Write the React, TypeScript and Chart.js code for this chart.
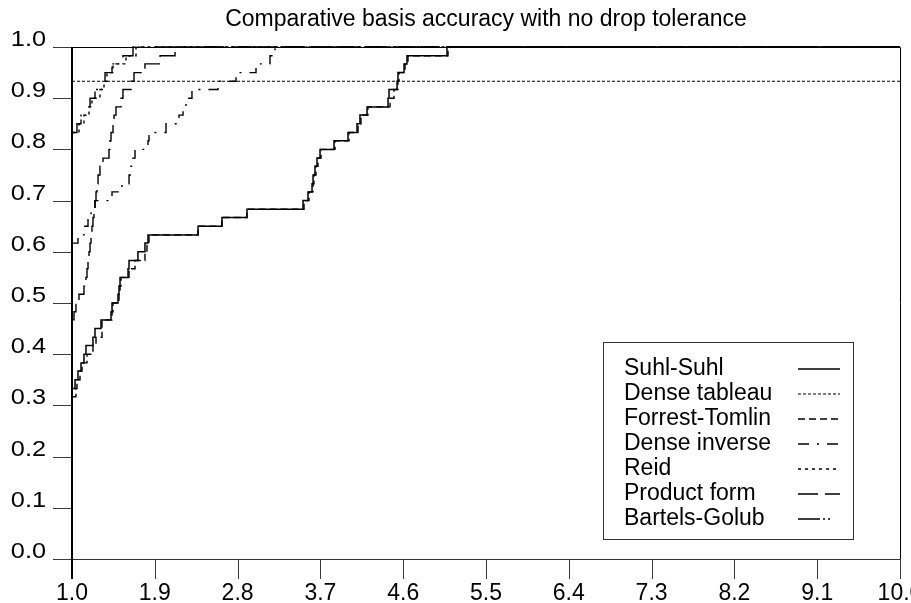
import React, { useEffect, useRef } from "react";
import { Chart, registerables } from "chart.js";

Chart.register(...registerables);

const TITLE = "Comparative basis accuracy with no drop tolerance";
const X_TICKS = [1.0, 1.9, 2.8, 3.7, 4.6, 5.5, 6.4, 7.3, 8.2, 9.1, 10.0];
const Y_TICKS = [0.0, 0.1, 0.2, 0.3, 0.4, 0.5, 0.6, 0.7, 0.8, 0.9, 1.0];

const SERIES_NAMES = [
  "Suhl-Suhl",
  "Dense tableau",
  "Forrest-Tomlin",
  "Dense inverse",
  "Reid",
  "Product form",
  "Bartels-Golub",
];

const suhlX = [1.0, 1.033, 1.065, 1.098, 1.13, 1.152, 1.228, 1.25, 1.315, 1.424, 1.435, 1.5, 1.511, 1.522, 1.609, 1.62, 1.717, 1.793, 1.826, 2.37, 2.63, 2.902, 3.511, 3.565, 3.609, 3.62, 3.641, 3.663, 3.696, 3.848, 4.0, 4.098, 4.13, 4.207, 4.435, 4.446, 4.533, 4.543, 4.609, 4.641, 5.076, 10.0];
const suhlY = [0.333, 0.35, 0.367, 0.383, 0.4, 0.417, 0.433, 0.45, 0.467, 0.483, 0.5, 0.517, 0.533, 0.55, 0.567, 0.583, 0.6, 0.617, 0.633, 0.65, 0.667, 0.683, 0.7, 0.717, 0.733, 0.75, 0.767, 0.783, 0.8, 0.817, 0.833, 0.85, 0.867, 0.883, 0.9, 0.917, 0.933, 0.95, 0.967, 0.983, 1.0, 1.0];

const tableauX = [1.0, 10.0];
const tableauY = [0.933, 0.933];

const forrestX = [1.0, 1.043, 1.054, 1.087, 1.109, 1.163, 1.228, 1.261, 1.326, 1.435, 1.446, 1.511, 1.522, 1.533, 1.62, 1.685, 1.793, 1.815, 1.837, 2.37, 2.63, 2.902, 3.522, 3.576, 3.62, 3.63, 3.652, 3.674, 3.707, 3.859, 4.011, 4.109, 4.141, 4.217, 4.457, 4.5, 4.543, 4.554, 4.62, 4.652, 5.087, 10.0];
const forrestY = [0.317, 0.333, 0.35, 0.367, 0.383, 0.4, 0.417, 0.433, 0.467, 0.483, 0.5, 0.517, 0.533, 0.55, 0.567, 0.583, 0.6, 0.617, 0.633, 0.65, 0.667, 0.683, 0.7, 0.717, 0.733, 0.75, 0.767, 0.783, 0.8, 0.817, 0.833, 0.85, 0.867, 0.883, 0.9, 0.917, 0.933, 0.95, 0.967, 0.983, 1.0, 1.0];

const inverseX = [1.0, 1.065, 1.13, 1.174, 1.207, 1.25, 1.435, 1.543, 1.62, 1.641, 1.663, 1.685, 1.826, 1.837, 2.022, 2.163, 2.207, 2.239, 2.304, 2.587, 2.783, 3.0, 3.152, 3.207, 10.0];
const inverseY = [0.617, 0.633, 0.65, 0.667, 0.683, 0.7, 0.717, 0.733, 0.75, 0.767, 0.783, 0.8, 0.817, 0.833, 0.85, 0.867, 0.883, 0.9, 0.917, 0.933, 0.95, 0.967, 0.983, 1.0, 1.0];

const reidX = [1.0, 1.076, 1.13, 1.185, 1.217, 1.304, 1.348, 1.38, 1.446, 1.587, 1.696, 10.0];
const reidY = [0.833, 0.85, 0.867, 0.883, 0.9, 0.917, 0.933, 0.95, 0.967, 0.983, 1.0, 1.0];

const productX = [1.0, 1.022, 1.043, 1.076, 1.13, 1.152, 1.163, 1.174, 1.185, 1.196, 1.207, 1.217, 1.228, 1.239, 1.25, 1.261, 1.272, 1.283, 1.304, 1.337, 1.402, 1.413, 1.424, 1.446, 1.457, 1.478, 1.533, 1.554, 1.641, 1.674, 1.793, 1.957, 2.12, 10.0];
const productY = [0.467, 0.483, 0.5, 0.517, 0.533, 0.55, 0.567, 0.583, 0.6, 0.617, 0.633, 0.65, 0.667, 0.683, 0.7, 0.717, 0.733, 0.75, 0.767, 0.783, 0.8, 0.817, 0.833, 0.85, 0.867, 0.883, 0.9, 0.917, 0.933, 0.95, 0.967, 0.983, 1.0, 1.0];

const bartelsX = [1.0, 1.054, 1.098, 1.163, 1.196, 1.25, 1.348, 1.359, 1.435, 1.554, 1.663, 10.0];
const bartelsY = [0.833, 0.85, 0.867, 0.883, 0.9, 0.917, 0.933, 0.95, 0.967, 0.983, 1.0, 1.0];

const SERIES_X = [suhlX, tableauX, forrestX, inverseX, reidX, productX, bartelsX];
const SERIES_Y = [suhlY, tableauY, forrestY, inverseY, reidY, productY, bartelsY];
const DASHES: number[][] = [
  [],
  [3, 2],
  [7, 4],
  [11, 8, 2, 8],
  [3, 4],
  [20, 7],
  [22, 3, 2, 3, 2, 10],
];
const WIDTHS = [1.5, 1.1, 1.4, 1.4, 1.4, 1.4, 1.4];

const FONT = '"Liberation Sans", Arial, sans-serif';

const framePlugin = {
  id: "framePlugin",
  afterDraw(chart: any) {
    const { ctx, chartArea: a, scales } = chart;
    const xs = scales.x;
    const ys = scales.y;
    ctx.save();
    ctx.lineCap = "butt";

    // tick marks
    ctx.strokeStyle = "#3a3a3a";
    ctx.lineWidth = 1;
    Y_TICKS.forEach((v) => {
      const py = Math.round(ys.getPixelForValue(v)) + 0.5;
      ctx.beginPath();
      ctx.moveTo(a.left - 19, py);
      ctx.lineTo(a.left, py);
      ctx.stroke();
    });
    X_TICKS.forEach((v) => {
      const px = Math.round(xs.getPixelForValue(v)) + 0.5;
      ctx.beginPath();
      ctx.moveTo(px, a.bottom);
      ctx.lineTo(px, a.bottom + 20);
      ctx.stroke();
    });

    // frame
    ctx.strokeStyle = "#000";
    ctx.lineWidth = 1;
    ctx.beginPath();
    ctx.moveTo(a.left, Math.round(a.top) + 0.5);
    ctx.lineTo(a.right + 0.5, Math.round(a.top) + 0.5);
    ctx.lineTo(a.right + 0.5, a.bottom);
    ctx.stroke();
    ctx.strokeStyle = "#333";
    ctx.beginPath();
    ctx.moveTo(a.left, Math.round(a.bottom) + 0.5);
    ctx.lineTo(a.right, Math.round(a.bottom) + 0.5);
    ctx.stroke();
    ctx.strokeStyle = "#000";
    ctx.lineWidth = 2;
    ctx.beginPath();
    ctx.moveTo(a.left, a.top);
    ctx.lineTo(a.left, a.bottom + 20);
    ctx.stroke();

    // y tick labels (slightly widened glyphs)
    ctx.fillStyle = "#000";
    ctx.textBaseline = "alphabetic";
    ctx.font = `22px ${FONT}`;
    ctx.textAlign = "right";
    Y_TICKS.forEach((v) => {
      const py = ys.getPixelForValue(v);
      ctx.save();
      ctx.translate(a.left - 26, py - 1);
      ctx.scale(1.15, 1);
      ctx.fillText(v.toFixed(1), 0, 0);
      ctx.restore();
    });

    // x tick labels
    ctx.font = `23px ${FONT}`;
    ctx.textAlign = "center";
    X_TICKS.forEach((v) => {
      const px = xs.getPixelForValue(v);
      ctx.fillText(v.toFixed(1), px, a.bottom + 41);
    });

    // title
    ctx.fillText(TITLE, (a.left + a.right) / 2, 26);

    // legend
    const bx = a.right - 297;
    const by = a.top + 295;
    const bw = 250;
    const bh = 197;
    ctx.strokeStyle = "#333";
    ctx.lineWidth = 1;
    ctx.strokeRect(bx + 0.5, by + 0.5, bw, bh);
    ctx.textAlign = "left";
    chart.data.datasets.forEach((ds: any, i: number) => {
      const base = by + 33 + i * 25;
      ctx.fillStyle = "#000";
      ctx.fillText(ds.label, bx + 21, base);
      ctx.strokeStyle = "#000";
      ctx.lineWidth = ds.borderWidth;
      ctx.setLineDash(ds.borderDash || []);
      ctx.beginPath();
      ctx.moveTo(bx + 195, base - 6);
      ctx.lineTo(bx + 237, base - 6);
      ctx.stroke();
      ctx.setLineDash([]);
    });
    ctx.restore();
  },
};

export default function App() {
  const ref = useRef<HTMLCanvasElement>(null);
  useEffect(() => {
    if (!ref.current) return;
    const datasets = SERIES_NAMES.map((name, i) => ({
      label: name,
      data: SERIES_X[i].map((x, j) => ({ x, y: SERIES_Y[i][j] })),
      borderColor: "#000",
      backgroundColor: "#000",
      borderWidth: WIDTHS[i],
      borderDash: DASHES[i],
      stepped: true,
      pointRadius: 0,
      fill: false,
      tension: 0,
      clip: 6,
    }));
    const chart = new Chart(ref.current, {
      type: "line",
      data: { datasets },
      options: {
        animation: false,
        responsive: false,
        devicePixelRatio: 1,
        layout: { padding: { left: 72, top: 47, right: 11, bottom: 44 } },
        plugins: {
          legend: { display: false },
          title: { display: false },
          tooltip: { enabled: false },
        },
        events: [],
        scales: {
          x: { type: "linear", min: 1, max: 10, display: false },
          y: { type: "linear", min: 0, max: 1, display: false },
        },
      },
      plugins: [framePlugin],
    });
    return () => chart.destroy();
  }, []);
  return (
    <div style={{ position: "fixed", left: 0, top: 0, width: 911, height: 603, background: "#fff" }}>
      <canvas ref={ref} width={911} height={603} style={{ display: "block" }} />
    </div>
  );
}
